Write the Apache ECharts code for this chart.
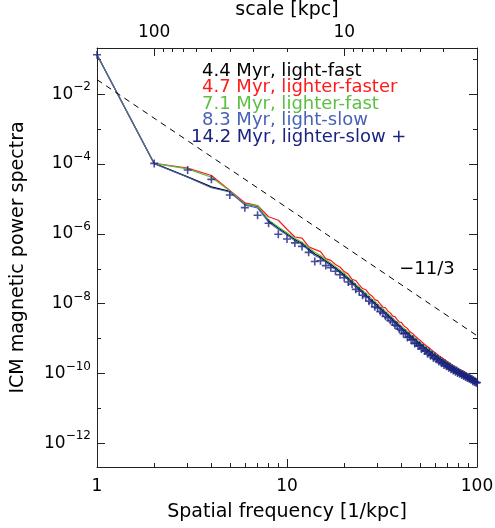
<!DOCTYPE html>
<html><head><meta charset="utf-8">
<script src="https://cdn.jsdelivr.net/npm/echarts@6/dist/echarts.min.js"></script>
<style>html,body{margin:0;padding:0;background:#fff}#c{width:495px;height:528px}</style>
</head><body><div id="c"></div>
<script>
// Spatial frequency bins [1/kpc]
const k = [1,2,3,4,5,6,7,8,9,10,11,12,13,14,15,16,17,18,19,20,21,22,23,24,25,26,27,28,29,30,
31,32,33,34,35,36,37,38,39,40,41,42,43,44,45,46,47,48,49,50,51,52,53,54,55,56,57,58,59,60,
61,62,63,64,65,66,67,68,69,70,71,72,73,74,75,76,77,78,79,80,81,82,83,84,85,86,87,88,89,90,
91,92,93,94,95,96,97,98,99,100];

const seriesNames = ['4.4 Myr, light-fast','4.7 Myr, lighter-faster','7.1 Myr, lighter-fast','8.3 Myr, light-slow','14.2 Myr, lighter-slow +'];

const lightFast44 = [0.134,1.04e-4,4.27e-5,2.21e-5,1.64e-5,7.19e-6,6.10e-6,2.34e-6,1.48e-6,9.93e-7,
6.92e-7,5.31e-7,3.69e-7,2.65e-7,2.18e-7,1.67e-7,1.33e-7,1.05e-7,8.38e-8,6.64e-8,
5.20e-8,4.12e-8,3.38e-8,2.67e-8,2.17e-8,1.79e-8,1.44e-8,1.23e-8,1.04e-8,8.73e-9,
7.41e-9,6.32e-9,5.55e-9,4.67e-9,4.04e-9,3.51e-9,3.06e-9,2.62e-9,2.35e-9,2.07e-9,
1.83e-9,1.63e-9,1.45e-9,1.33e-9,1.17e-9,1.06e-9,9.57e-10,8.71e-10,7.94e-10,7.26e-10,
6.65e-10,6.00e-10,5.64e-10,5.21e-10,4.83e-10,4.49e-10,4.17e-10,3.89e-10,3.63e-10,3.40e-10,
3.25e-10,3.00e-10,2.82e-10,2.66e-10,2.51e-10,2.37e-10,2.24e-10,2.13e-10,2.02e-10,1.92e-10,
1.83e-10,1.72e-10,1.66e-10,1.59e-10,1.52e-10,1.46e-10,1.40e-10,1.34e-10,1.29e-10,1.24e-10,
1.19e-10,1.15e-10,1.10e-10,1.06e-10,1.03e-10,9.91e-11,9.59e-11,9.27e-11,8.97e-11,8.71e-11,
8.43e-11,8.18e-11,7.94e-11,7.73e-11,7.50e-11,7.29e-11,7.10e-11,6.92e-11,6.73e-11,6.56e-11];

const lighterFaster47 = [0.134,1.04e-4,7.59e-5,4.68e-5,1.74e-5,7.76e-6,6.46e-6,3.09e-6,2.45e-6,1.35e-6,
8.13e-7,7.50e-7,4.27e-7,3.58e-7,3.09e-7,1.95e-7,1.74e-7,1.32e-7,1.12e-7,8.32e-8,
7.02e-8,4.94e-8,4.62e-8,3.47e-8,2.71e-8,2.51e-8,1.92e-8,1.66e-8,1.30e-8,1.22e-8,
9.63e-9,7.90e-9,7.59e-9,6.07e-9,5.45e-9,4.39e-9,4.28e-9,3.48e-9,2.94e-9,2.90e-9,
2.38e-9,2.12e-9,1.96e-9,1.63e-9,1.58e-9,1.38e-9,1.20e-9,1.18e-9,9.93e-10,9.44e-10,
8.31e-10,7.96e-10,6.77e-10,6.67e-10,5.80e-10,5.61e-10,5.00e-10,4.75e-10,4.28e-10,4.15e-10,
3.76e-10,3.60e-10,3.24e-10,3.19e-10,2.91e-10,2.80e-10,2.55e-10,2.51e-10,2.30e-10,2.23e-10,
2.07e-10,2.03e-10,1.86e-10,1.83e-10,1.70e-10,1.66e-10,1.54e-10,1.51e-10,1.42e-10,1.39e-10,
1.31e-10,1.29e-10,1.21e-10,1.19e-10,1.13e-10,1.11e-10,1.05e-10,1.04e-10,9.87e-11,9.58e-11,
9.20e-11,8.80e-11,8.50e-11,8.25e-11,7.95e-11,7.62e-11,7.48e-11,7.15e-11,6.95e-11,6.72e-11];

const lighterFast71 = [0.134,1.04e-4,7.24e-5,4.17e-5,1.70e-5,7.08e-6,6.31e-6,2.51e-6,1.58e-6,1.07e-6,
7.41e-7,5.75e-7,3.98e-7,2.95e-7,2.40e-7,1.82e-7,1.45e-7,1.15e-7,9.12e-8,7.41e-8,
5.72e-8,4.61e-8,3.56e-8,2.99e-8,2.39e-8,1.93e-8,1.66e-8,1.35e-8,1.16e-8,9.60e-9,
8.00e-9,7.08e-9,5.96e-9,5.14e-9,4.52e-9,3.79e-9,3.37e-9,3.00e-9,2.59e-9,2.24e-9,
2.01e-9,1.79e-9,1.62e-9,1.40e-9,1.29e-9,1.17e-9,1.07e-9,9.41e-10,8.73e-10,7.99e-10,
7.18e-10,6.73e-10,6.20e-10,5.63e-10,5.31e-10,4.85e-10,4.59e-10,4.20e-10,3.99e-10,3.60e-10,
3.45e-10,3.24e-10,2.99e-10,2.87e-10,2.66e-10,2.56e-10,2.37e-10,2.30e-10,2.14e-10,2.07e-10,
1.94e-10,1.86e-10,1.79e-10,1.69e-10,1.61e-10,1.58e-10,1.48e-10,1.42e-10,1.37e-10,1.34e-10,
1.26e-10,1.22e-10,1.17e-10,1.12e-10,1.09e-10,1.05e-10,1.02e-10,9.83e-11,9.42e-11,9.23e-11,
8.85e-11,8.67e-11,8.34e-11,8.12e-11,7.95e-11,7.65e-11,7.46e-11,7.27e-11,7.07e-11,6.89e-11];

const lightSlow83 = [0.134,1.02e-4,4.17e-5,2.09e-5,1.58e-5,6.76e-6,5.50e-6,2.15e-6,1.36e-6,9.23e-7,
6.37e-7,4.94e-7,3.39e-7,2.39e-7,2.01e-7,1.55e-7,1.20e-7,9.77e-8,7.71e-8,5.98e-8,
4.84e-8,3.79e-8,2.97e-8,2.48e-8,2.00e-8,1.61e-8,1.38e-8,1.13e-8,9.36e-9,8.12e-9,
6.82e-9,5.81e-9,4.88e-9,4.34e-9,3.72e-9,3.26e-9,2.75e-9,2.47e-9,2.19e-9,1.90e-9,
1.65e-9,1.52e-9,1.33e-9,1.21e-9,1.05e-9,9.86e-10,8.80e-10,8.01e-10,7.38e-10,6.53e-10,
6.18e-10,5.63e-10,5.25e-10,4.79e-10,4.49e-10,4.13e-10,3.92e-10,3.62e-10,3.41e-10,3.16e-10,
3.00e-10,2.79e-10,2.65e-10,2.53e-10,2.36e-10,2.25e-10,2.11e-10,2.02e-10,1.92e-10,1.80e-10,
1.74e-10,1.66e-10,1.58e-10,1.51e-10,1.44e-10,1.40e-10,1.33e-10,1.29e-10,1.23e-10,1.19e-10,
1.14e-10,1.09e-10,1.06e-10,1.02e-10,9.79e-11,9.51e-11,9.21e-11,8.90e-11,8.61e-11,8.36e-11,
8.09e-11,7.85e-11,7.62e-11,7.50e-11,7.20e-11,7.07e-11,6.82e-11,6.71e-11,6.53e-11,6.36e-11];

const lighterSlow142 = [0.134,1.04e-4,6.76e-5,3.63e-5,1.29e-5,5.62e-6,3.39e-6,2.00e-6,9.77e-7,7.08e-7,
5.50e-7,4.37e-7,2.95e-7,1.62e-7,1.70e-7,1.23e-7,1.07e-7,8.51e-8,6.76e-8,5.50e-8,
4.16e-8,3.63e-8,2.57e-8,2.27e-8,1.74e-8,1.58e-8,1.18e-8,1.05e-8,8.11e-9,7.51e-9,
5.93e-9,5.37e-9,4.34e-9,3.97e-9,3.31e-9,2.98e-9,2.45e-9,2.30e-9,1.88e-9,1.70e-9,
1.39e-9,1.43e-9,1.07e-9,1.14e-9,9.13e-10,9.54e-10,7.18e-10,7.49e-10,6.19e-10,6.39e-10,
5.05e-10,5.40e-10,4.40e-10,4.48e-10,3.67e-10,4.04e-10,3.25e-10,3.42e-10,2.80e-10,3.06e-10,
2.54e-10,2.64e-10,2.20e-10,2.39e-10,1.98e-10,2.09e-10,1.75e-10,1.92e-10,1.62e-10,1.69e-10,
1.46e-10,1.55e-10,1.33e-10,1.42e-10,1.22e-10,1.31e-10,1.13e-10,1.21e-10,1.04e-10,1.12e-10,
9.76e-11,1.04e-10,9.02e-11,9.65e-11,8.55e-11,8.92e-11,7.96e-11,8.34e-11,7.45e-11,7.84e-11,
7.08e-11,7.36e-11,6.67e-11,6.96e-11,6.00e-11,6.40e-11,5.70e-11,5.90e-11,5.40e-11,5.50e-11];

// Reference power law k^(-11/3)
const refK = [1, 100];
const refY = [2.6e-2, 1.21e-9];
const refLabel = '\u221211/3';

// Tick values
const freqTicks = [1, 10, 100];
const freqMinor = [2,3,4,5,6,7,8,9,20,30,40,50,60,70,80,90];
const scaleTicks = [100, 10];
const scaleMinor = [90,80,70,60,50,40,30,20,9,8,7,6,5,4,3];
const powTicks = [1e-12,1e-10,1e-8,1e-6,1e-4,1e-2];
const powMinor = [1e-11,1e-9,1e-7,1e-5,1e-3,1e-1];

const colors = ['#000000','#ff1a1a','#5cbf44','#4862b6','#1a2380'];
const FONT = 'DejaVu Sans';
const AX = '#222';

const chart = echarts.init(document.getElementById('c'), null, {renderer:'canvas'});

function logAxis(extra) {
  return Object.assign({
    type:'log', logBase:10, splitLine:{show:false}, minorTick:{show:false},
    axisLine:{show:false}, axisLabel:{show:false}, axisTick:{show:false}
  }, extra);
}
const lblStyle = {fontFamily:FONT, fontSize:17, color:'#000'};
const nameStyle = {fontFamily:FONT, fontSize:19, color:'#000'};

const lineSets = [lightFast44, lighterFaster47, lighterFast71, lightSlow83];

const option = {
  animation:false,
  backgroundColor:'#fff',
  grid:{left:97, right:18, top:48, bottom:61, containLabel:false, outerBoundsMode:'none'},
  xAxis:[
    logAxis({position:'bottom', min:1, max:100,
      name:'Spatial frequency [1/kpc]', nameLocation:'middle', nameGap:36, nameTextStyle:nameStyle,
      axisLine:{show:true, lineStyle:{color:AX, width:1}},
      axisTick:{show:true, inside:true, length:8, customValues:freqTicks, lineStyle:{color:AX}},
      axisLabel:Object.assign({show:true, customValues:freqTicks, margin:11, formatter:v=>String(Math.round(v))}, lblStyle)}),
    logAxis({position:'bottom', min:1, max:100,
      axisTick:{show:true, inside:true, length:4, customValues:freqMinor, lineStyle:{color:AX}}}),
    logAxis({position:'top', inverse:true, min:2, max:200,
      name:'scale [kpc]', nameLocation:'middle', nameGap:22, nameTextStyle:nameStyle,
      axisLine:{show:true, lineStyle:{color:AX, width:1}},
      axisTick:{show:true, inside:true, length:8, customValues:scaleTicks, lineStyle:{color:AX}},
      axisLabel:Object.assign({show:true, customValues:scaleTicks, margin:7, formatter:v=>String(Math.round(v))}, lblStyle)}),
    logAxis({position:'top', inverse:true, min:2, max:200,
      axisTick:{show:true, inside:true, length:4, customValues:scaleMinor, lineStyle:{color:AX}}})
  ],
  yAxis:[
    logAxis({position:'left', min:2.1e-13, max:0.21,
      name:'ICM magnetic power spectra', nameLocation:'middle', nameGap:69, nameTextStyle:nameStyle,
      axisLine:{show:true, lineStyle:{color:AX, width:1}},
      axisTick:{show:true, inside:true, length:8, customValues:powTicks, lineStyle:{color:AX}},
      axisLabel:Object.assign({show:true, customValues:powTicks, margin:6,
        formatter:v=>'10{sup|\u2212' + Math.round(-Math.log10(v)) + '}',
        lineHeight:26,
        rich:{sup:{fontFamily:FONT, fontSize:12, lineHeight:12, verticalAlign:'top', color:'#000'}}}, lblStyle)}),
    logAxis({position:'left', min:2.1e-13, max:0.21,
      axisTick:{show:true, inside:true, length:4, customValues:powMinor, lineStyle:{color:AX}}}),
    logAxis({position:'right', min:2.1e-13, max:0.21,
      axisLine:{show:true, lineStyle:{color:AX, width:1}},
      axisTick:{show:true, inside:true, length:8, customValues:powTicks, lineStyle:{color:AX}}}),
    logAxis({position:'right', min:2.1e-13, max:0.21,
      axisTick:{show:true, inside:true, length:4, customValues:powMinor, lineStyle:{color:AX}}})
  ],
  series:[
    ...lineSets.map((vals, i) => ({
      name:seriesNames[i], type:'line', xAxisIndex:0, yAxisIndex:0,
      data:k.map((x, j) => [x, vals[j]]),
      symbol:'none', lineStyle:{color:colors[i], width:1.2}, z:2+i
    })),
    {name:seriesNames[4], type:'scatter', xAxisIndex:0, yAxisIndex:0,
      data:k.map((x, j) => [x, lighterSlow142[j]]),
      symbol:'path://M4,0L6,0L6,4L10,4L10,6L6,6L6,10L4,10L4,6L0,6L0,4L4,4Z', symbolSize:8,
      itemStyle:{color:colors[4], borderWidth:0}, z:7},
    {name:'ref', type:'line', xAxisIndex:0, yAxisIndex:0,
      data:refK.map((x, j) => [x, refY[j]]),
      symbol:'none', lineStyle:{color:'#000', width:1, type:[6,5]}, z:8}
  ],
  graphic:[
    ...seriesNames.map((t, i) => ({
      type:'text', x:(i === 4 ? 191 : 202), y:71 + i * 16.6,
      style:{text:t, fill:colors[i], fontFamily:FONT, fontSize:18, align:'left', verticalAlign:'middle'}
    })),
    {type:'text', x:427, y:269,
      style:{text:refLabel, fill:'#000', fontFamily:FONT, fontSize:18, align:'center', verticalAlign:'middle'}}
  ]
};
chart.setOption(option);
</script>
</body></html>
